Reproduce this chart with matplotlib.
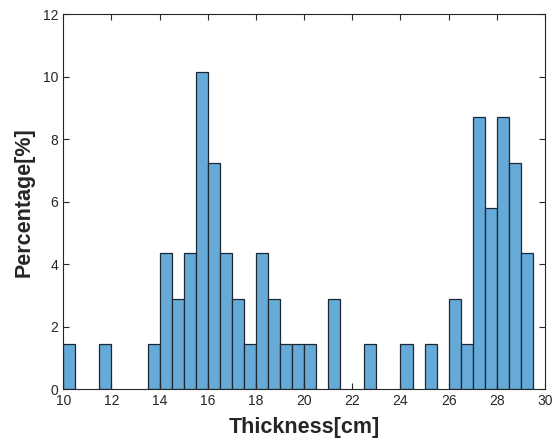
import numpy as np
import matplotlib
matplotlib.use('Agg')
import matplotlib.pyplot as plt

plt.rcParams['font.family'] = ['Liberation Sans', 'DejaVu Sans']

# histogram bins (0.5 cm wide) and percentage per bin
bin_left = [10.0, 10.5, 11.0, 11.5, 12.0, 12.5, 13.0, 13.5, 14.0, 14.5,
            15.0, 15.5, 16.0, 16.5, 17.0, 17.5, 18.0, 18.5, 19.0, 19.5,
            20.0, 20.5, 21.0, 21.5, 22.0, 22.5, 23.0, 23.5, 24.0, 24.5,
            25.0, 25.5, 26.0, 26.5, 27.0, 27.5, 28.0, 28.5, 29.0]
percent = [1.45, 0, 0, 1.45, 0, 0, 0, 1.45, 4.35, 2.90,
           4.35, 10.14, 7.25, 4.35, 2.90, 1.45, 4.35, 2.90, 1.45, 1.45,
           1.45, 0, 2.90, 0, 0, 1.45, 0, 0, 1.45, 0,
           1.45, 0, 2.90, 1.45, 8.70, 5.80, 8.70, 7.25, 4.35]
bin_width = 0.5

xticks = list(range(10, 31, 2))
yticks = list(range(0, 13, 2))

fig = plt.figure(figsize=(5.57, 4.42), dpi=100)
ax = fig.add_axes([0.1136, 0.1192, 0.8649, 0.8491])

left = [b for b, p in zip(bin_left, percent) if p > 0]
heights = [p for p in percent if p > 0]
ax.bar(left, heights, width=bin_width, align='edge',
       color='#66AAD7', edgecolor='#1c2833', linewidth=0.9)

ax.set_xlim(10, 30)
ax.set_ylim(0, 12)
ax.set_xticks(xticks)
ax.set_yticks(yticks)

ax.tick_params(direction='in', length=4, width=0.8, labelsize=10,
               colors='#262626', top=True, right=True)
for s in ax.spines.values():
    s.set_color('#262626')
    s.set_linewidth(0.8)

ax.set_xlabel('Thickness[cm]', fontsize=15.5, fontweight='bold', color='#262626', labelpad=6)
ax.set_ylabel('Percentage[%]', fontsize=15.5, fontweight='bold', color='#262626', labelpad=6)

fig.savefig('out.png', dpi=100)
